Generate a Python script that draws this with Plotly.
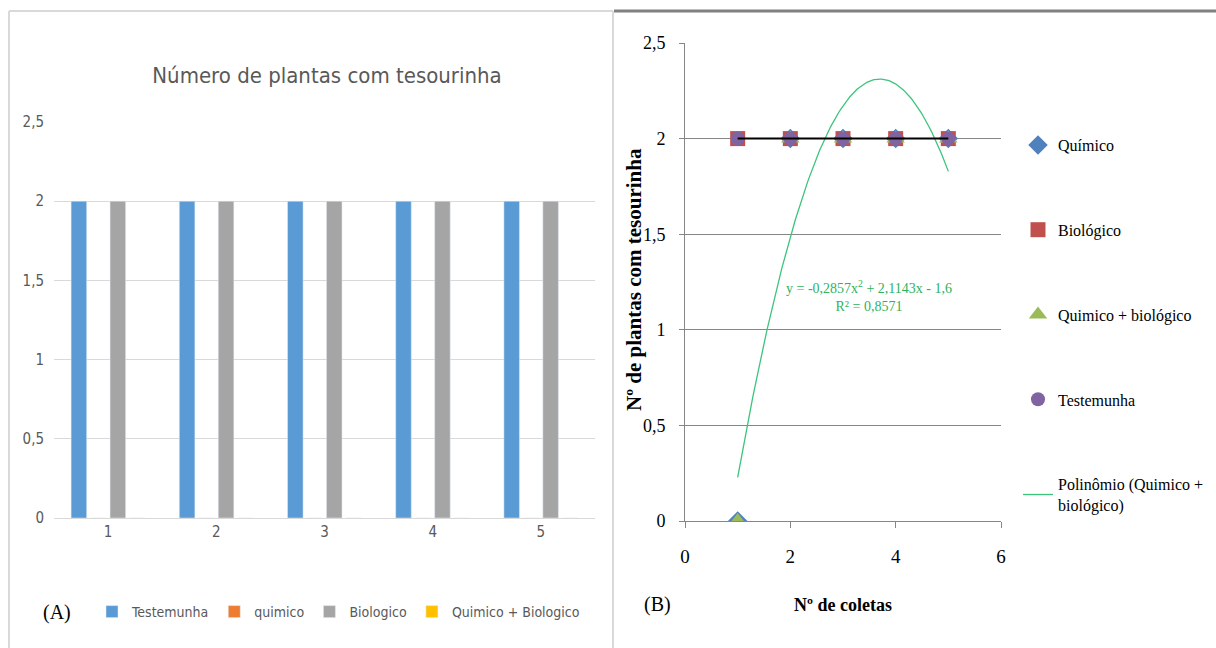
import numpy as np
import plotly.graph_objects as go

# ---------------- data ----------------
# Panel A (bar chart)
categories_a = ["1", "2", "3", "4", "5"]
testemunha_a = [2, 2, 2, 2, 2]
quimico_a = [0, 0, 0, 0, 0]
biologico_a = [2, 2, 2, 2, 2]
quim_bio_a = [0, 0, 0, 0, 0]

# Panel B (scatter)
coletas = [1, 2, 3, 4, 5]
quimico_b = [0, 2, 2, 2, 2]
biologico_b = [2, 2, 2, 2, 2]
quim_bio_b = [0, 2, 2, 2, 2]
testemunha_b = [2, 2, 2, 2, 2]

W, H = 1216, 648
def px(x):
    return x / W
def py(y):
    return 1 - y / H

SANS = "Liberation Sans Narrow, Arial Narrow, DejaVu Sans Condensed, sans-serif"
SERIF = "Liberation Serif, Times New Roman, serif"
GRAY_TXT = "#595959"

fig = go.Figure()

# ---- Panel A bars ----
bar_specs = [
    ("Testemunha", testemunha_a, "#5b9bd5"),
    ("quimico", quimico_a, "#ed7d31"),
    ("Biologico", biologico_a, "#a5a5a5"),
    ("Quimico + Biologico", quim_bio_a, "#ffc000"),
]
for name, vals, col in bar_specs:
    fig.add_trace(go.Bar(
        x=categories_a, y=vals, name=name, marker_color=col,
        xaxis="x", yaxis="y", legend="legend",
    ))

# ---- Panel B scatter ----
sc_specs = [
    ("Químico", quimico_b, "#4f81bd", "diamond", 15),
    ("Biológico", biologico_b, "#c0504d", "square", 15),
    ("Quimico + biológico", quim_bio_b, "#9bbb59", "triangle-up", 16),
    ("Testemunha", testemunha_b, "#8064a2", "circle", 14),
]
for name, vals, col, sym, sz in sc_specs:
    fig.add_trace(go.Scatter(
        x=coletas, y=vals, name=name, mode="markers",
        marker=dict(color=col, symbol=sym, size=sz),
        xaxis="x2", yaxis="y2", legend="legend2", legendgroup=name,
    ))

# polynomial trendline (order 2) for Quimico + biológico
coef = np.polyfit(coletas, quim_bio_b, 2)
xs = np.linspace(min(coletas), max(coletas), 200)
ys = np.polyval(coef, xs)
pred = np.polyval(coef, coletas)
qb = np.array(quim_bio_b, dtype=float)
r2 = 1 - np.sum((qb - pred) ** 2) / np.sum((qb - qb.mean()) ** 2)

fig.add_trace(go.Scatter(
    x=xs, y=ys, mode="lines", name="Polinômio (Quimico +<br>biológico)",
    line=dict(color="#3cc47c", width=1.3),
    xaxis="x2", yaxis="y2", legend="legend2", legendgroup="poly",
))

# black linear trend through Testemunha
lin = np.polyfit(coletas, testemunha_b, 1)
fig.add_trace(go.Scatter(
    x=[coletas[0], coletas[-1]], y=list(np.polyval(lin, [coletas[0], coletas[-1]])),
    mode="lines", line=dict(color="black", width=2), showlegend=False,
    xaxis="x2", yaxis="y2", hoverinfo="skip",
))

def fmt(v, d):
    s = f"{abs(v):.{d}f}".rstrip("0").rstrip(".")
    return s.replace(".", ",")

eq = (f"y = {'-' if coef[0] < 0 else ''}{fmt(coef[0], 4)}x<sup>2</sup>"
      f" {'+' if coef[1] >= 0 else '-'} {fmt(coef[1], 4)}x"
      f" {'+' if coef[2] >= 0 else '-'} {fmt(coef[2], 4)}"
      f"<br>R² = {fmt(r2, 4)}")

fig.update_layout(
    width=W, height=H,
    margin=dict(l=0, r=0, t=0, b=0, autoexpand=False),
    paper_bgcolor="white", plot_bgcolor="white",
    separators=",.",
    barmode="group", bargap=0.28, bargroupgap=0.2,
    showlegend=True,
    title=dict(text="Número de plantas com tesourinha", x=px(327), y=py(75),
               xanchor="center", yanchor="middle",
               font=dict(family=SANS, size=22, color=GRAY_TXT)),
    xaxis=dict(domain=[px(54), px(595)], type="category", automargin=False,
               showgrid=False, showline=True, linecolor="#d9d9d9", linewidth=1,
               ticks="", tickfont=dict(family=SANS, size=15, color=GRAY_TXT),
               ticklabelstandoff=0, fixedrange=True),
    yaxis=dict(domain=[py(518), py(122)], range=[0, 2.5], dtick=0.5, automargin=False,
               showgrid=True, gridcolor="#d9d9d9", gridwidth=1,
               zeroline=False, showline=False, ticks="",
               tickfont=dict(family=SANS, size=15, color=GRAY_TXT),
               ticklabelstandoff=9, fixedrange=True),
    xaxis2=dict(domain=[px(685), px(1001)], range=[0, 6], dtick=2, automargin=False,
                showgrid=False, zeroline=False,
                showline=True, linecolor="#868686", linewidth=1,
                ticks="outside", ticklen=6, tickcolor="#868686",
                tickfont=dict(family=SERIF, size=19, color="black"),
                ticklabelstandoff=12,
                title=dict(text="<b>Nº de coletas</b>", standoff=32,
                           font=dict(family=SERIF, size=18, color="black")),
                anchor="y2", fixedrange=True),
    yaxis2=dict(domain=[py(521), py(43)], range=[0, 2.5], dtick=0.5, automargin=False,
                showgrid=True, gridcolor="#868686", gridwidth=1,
                zeroline=False, showline=True, linecolor="#868686", linewidth=1,
                ticks="outside", ticklen=5, tickcolor="#868686",
                tickfont=dict(family=SERIF, size=18, color="black"),
                ticklabelstandoff=10,
                anchor="x2", fixedrange=True),
    legend=dict(orientation="h", x=px(92), y=py(612), xanchor="left", yanchor="middle",
                font=dict(family=SANS, size=14, color=GRAY_TXT),
                itemwidth=30, bgcolor="rgba(0,0,0,0)"),
    legend2=dict(orientation="v", x=px(1018), y=py(128), xanchor="left", yanchor="top",
                 traceorder="grouped", tracegroupgap=61,
                 font=dict(family=SERIF, size=16, color="black"),
                 bgcolor="rgba(0,0,0,0)"),
    annotations=[
        dict(text="<b>Nº de plantas com tesourinha</b>", x=px(634), y=py(280),
             xref="paper", yref="paper", xanchor="center", yanchor="middle",
             textangle=-90, showarrow=False,
             font=dict(family=SERIF, size=21, color="black")),
        dict(text=eq, x=px(869), y=py(296), xref="paper", yref="paper",
             xanchor="center", yanchor="middle",
             showarrow=False, align="center",
             font=dict(family=SERIF, size=14, color="#2fb25a")),
        dict(text="(A)", x=px(57), y=py(612), xref="paper", yref="paper",
             xanchor="center", yanchor="middle",
             showarrow=False, font=dict(family=SERIF, size=20, color="black")),
        dict(text="(B)", x=px(657), y=py(604), xref="paper", yref="paper",
             xanchor="center", yanchor="middle",
             showarrow=False, font=dict(family=SERIF, size=20, color="black")),
    ],
    shapes=[
        dict(type="line", xref="paper", yref="paper", x0=px(9), x1=px(613), y0=py(11), y1=py(11),
             line=dict(color="#d9d9d9", width=2)),
        dict(type="line", xref="paper", yref="paper", x0=px(9), x1=px(9), y0=py(11), y1=0,
             line=dict(color="#d9d9d9", width=2)),
        dict(type="line", xref="paper", yref="paper", x0=px(613), x1=px(613), y0=py(11), y1=0,
             line=dict(color="#d9d9d9", width=2)),
        dict(type="line", xref="paper", yref="paper", x0=px(614), x1=1, y0=py(11), y1=py(11),
             line=dict(color="#808080", width=3)),
    ],
)

fig.write_html("out.html", config={"displayModeBar": False},
               post_script="document.body.style.margin='0px';")
